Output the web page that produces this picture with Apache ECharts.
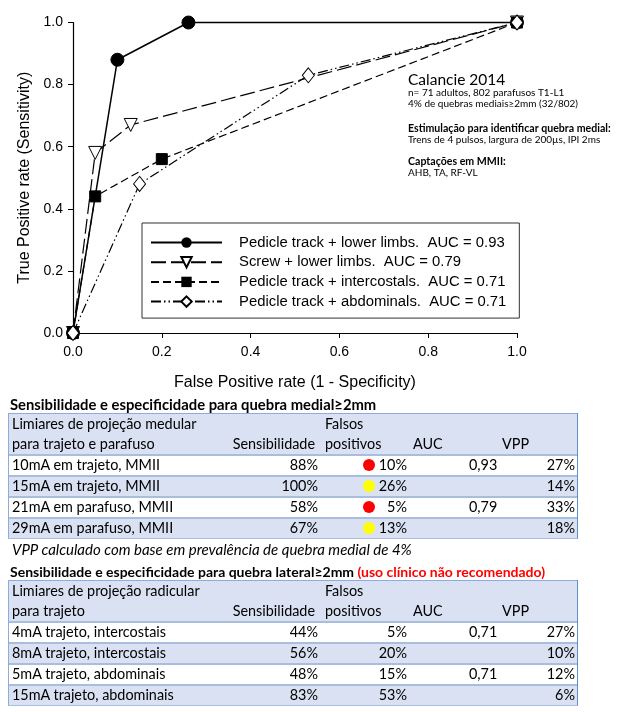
<!doctype html>
<html>
<head>
<meta charset="utf-8">
<title>Calancie 2014 - ROC</title>
<script src="https://cdn.jsdelivr.net/npm/echarts@6/dist/echarts.min.js"></script>
<style>
  html, body { margin: 0; padding: 0; background: #fff; }
  #page { position: relative; width: 640px; height: 712px; overflow: hidden; }
  #main { position: absolute; left: 0; top: 0; width: 640px; height: 400px; }
  .t { position: absolute; font-family: Lato, "Open Sans", sans-serif; font-size: 14.4px; color: #000; white-space: nowrap; }
  .b { font-weight: bold; }
  .r { text-align: right; }
  .band { position: absolute; left: 8px; width: 570px; }
  .dot { position: absolute; width: 12px; height: 12px; border-radius: 50%; }
</style>
</head>
<body>
<div id="page">
  <div id="main"></div>
</div>
<script>
// ROC points (false positive rate, true positive rate)
var fprTrackLimbs = [0, 0.10, 0.26, 1];
var tprTrackLimbs = [0, 0.88, 1.00, 1];
var fprScrewLimbs = [0, 0.05, 0.13, 1];
var tprScrewLimbs = [0, 0.58, 0.67, 1];
var fprTrackInter = [0, 0.05, 0.20, 1];
var tprTrackInter = [0, 0.44, 0.56, 1];
var fprTrackAbdo = [0, 0.15, 0.53, 1];
var tprTrackAbdo = [0, 0.48, 0.83, 1];

var seriesNames = [
  'Pedicle track + lower limbs.  AUC = 0.93',
  'Screw + lower limbs.  AUC = 0.79',
  'Pedicle track + intercostals.  AUC = 0.71',
  'Pedicle track + abdominals.  AUC = 0.71'
];

var noteLines = [
  'n= 71 adultos, 802 parafusos T1-L1',
  '4% de quebras mediais\u22652mm (32/802)',
  'Estimula\u00e7\u00e3o para identificar quebra medial:',
  'Trens de 4 pulsos, largura de 200\u00b5s, IPI 2ms',
  'Capta\u00e7\u00f5es em MMII:',
  'AHB, TA, RF-VL'
];

// table 1: medial breach
var medialLabels = ['10mA em trajeto, MMII', '15mA em trajeto, MMII', '21mA em parafuso, MMII', '29mA em parafuso, MMII'];
var medialSens = ['88%', '100%', '58%', '67%'];
var medialFp = ['10%', '26%', '5%', '13%'];
var medialFlag = ['#ff0000', '#ffff00', '#ff0000', '#ffff00'];
var medialAuc = ['0,93', '', '0,79', ''];
var medialVpp = ['27%', '14%', '33%', '18%'];

// table 2: lateral breach
var lateralLabels = ['4mA trajeto, intercostais', '8mA trajeto, intercostais', '5mA trajeto, abdominais', '15mA trajeto, abdominais'];
var lateralSens = ['44%', '56%', '48%', '83%'];
var lateralFp = ['5%', '20%', '15%', '53%'];
var lateralAuc = ['0,71', '', '0,71', ''];
var lateralVpp = ['27%', '10%', '12%', '6%'];

function pairs(xs, ys) {
  return xs.map(function (x, i) { return [x, ys[i]]; });
}

var axisFont = 'Liberation Sans';
var chart = echarts.init(document.getElementById('main'));

chart.setOption({
  animation: false,
  grid: { left: 73, right: 123, top: 22.5, bottom: 67 },
  legend: {
    orient: 'vertical',
    left: 142,
    top: 223,
    padding: [12, 13, 9, 8],
    itemGap: 4.7,
    itemWidth: 71,
    itemHeight: 13,
    borderColor: '#333',
    borderWidth: 1,
    borderRadius: 0,
    data: seriesNames,
    textStyle: { fontFamily: axisFont, fontSize: 14.85, color: '#000', padding: [0, 0, 0, 12] }
  },
  xAxis: {
    type: 'value', min: 0, max: 1, interval: 0.2,
    name: 'False Positive rate (1 - Specificity)',
    nameLocation: 'middle', nameGap: 42,
    nameTextStyle: { fontFamily: axisFont, fontSize: 16, color: '#000' },
    axisLine: { show: true, lineStyle: { color: '#000', width: 1.2 } },
    axisTick: { show: true, length: 5, lineStyle: { color: '#000' } },
    axisLabel: { margin: 12, fontFamily: axisFont, fontSize: 14, color: '#000',
      formatter: function (v) { return v.toFixed(1); } },
    splitLine: { show: false }
  },
  yAxis: {
    type: 'value', min: 0, max: 1, interval: 0.2,
    name: 'True Positive rate (Sensitivity)',
    nameLocation: 'middle', nameGap: 40,
    nameTextStyle: { fontFamily: axisFont, fontSize: 16, color: '#000' },
    axisLine: { show: true, lineStyle: { color: '#000', width: 1.2 } },
    axisTick: { show: true, length: 5, lineStyle: { color: '#000' } },
    axisLabel: { margin: 10, fontFamily: axisFont, fontSize: 14, color: '#000',
      formatter: function (v) { return v.toFixed(1); } },
    splitLine: { show: false }
  },
  graphic: [
    { type: 'text', left: 408, top: 72,
      style: { text: 'Calancie 2014', font: '15.5px Lato', fill: '#000' } },
    { type: 'text', left: 408, top: 87,
      style: { text: noteLines[0] + '\n' + noteLines[1], font: '10px Lato', fill: '#000', lineHeight: 11 } },
    { type: 'text', left: 408, top: 123,
      style: { text: noteLines[2], font: 'bold 10.6px Lato', fill: '#000' } },
    { type: 'text', left: 408, top: 134.5,
      style: { text: noteLines[3], font: '10px Lato', fill: '#000' } },
    { type: 'text', left: 408, top: 156,
      style: { text: noteLines[4], font: 'bold 10.6px Lato', fill: '#000' } },
    { type: 'text', left: 408, top: 167.5,
      style: { text: noteLines[5], font: '10px Lato', fill: '#000' } }
  ],
  series: [
    {
      name: seriesNames[0], type: 'line', clip: false,
      data: pairs(fprTrackLimbs, tprTrackLimbs),
      symbol: 'circle', symbolSize: 13,
      lineStyle: { color: '#000', width: 1.5, type: 'solid' },
      itemStyle: { color: '#000', borderColor: '#000' }
    },
    {
      name: seriesNames[1], type: 'line', clip: false,
      data: pairs(fprScrewLimbs, tprScrewLimbs),
      symbol: 'triangle', symbolRotate: 180, symbolSize: 13,
      lineStyle: { color: '#000', width: 1.2, type: [15, 5] },
      itemStyle: { color: '#fff', borderColor: '#000', borderWidth: 1 }
    },
    {
      name: seriesNames[2], type: 'line', clip: false,
      data: pairs(fprTrackInter, tprTrackInter),
      symbol: 'rect', symbolSize: 11,
      lineStyle: { color: '#000', width: 1.2, type: [8, 4] },
      itemStyle: { color: '#000', borderColor: '#000' }
    },
    {
      name: seriesNames[3], type: 'line', clip: false,
      data: pairs(fprTrackAbdo, tprTrackAbdo),
      symbol: 'diamond', symbolSize: [12, 15],
      lineStyle: { color: '#000', width: 1.2, type: [10, 3, 1.5, 3, 1.5, 3] },
      itemStyle: { color: '#fff', borderColor: '#000', borderWidth: 1 }
    }
  ]
});

// tables
var page = document.getElementById('page');
function put(html, cls, css) {
  var d = document.createElement('div');
  d.className = 't ' + (cls || '');
  d.innerHTML = html;
  for (var k in css) d.style[k] = css[k];
  page.appendChild(d);
  return d;
}
function band(top, h, bg, extra) {
  var d = document.createElement('div');
  d.className = 'band';
  d.style.top = top + 'px';
  d.style.height = h + 'px';
  d.style.background = bg;
  for (var k in extra) d.style[k] = extra[k];
  page.appendChild(d);
}

var headBg = '#d9e1f2';
var lineCol = '#a9bddf';
var rowH = 21;

function buildTable(top, head1, head2, labels, sens, fp, auc, vpp, flags) {
  var headH = 41;
  band(top, headH, headBg, { borderTop: '1px solid #8faadc', boxSizing: 'border-box' });
  put(head1, '', { left: '12px', top: (top + 1) + 'px', lineHeight: '20px' });
  put(head2, '', { left: '12px', top: (top + 21) + 'px', lineHeight: '20px' });
  put('Sensibilidade', 'r', { left: '200px', width: '115px', top: (top + 21) + 'px', lineHeight: '20px' });
  put('Falsos', '', { left: '325px', top: (top + 1) + 'px', lineHeight: '20px' });
  put('positivos', '', { left: '325px', top: (top + 21) + 'px', lineHeight: '20px' });
  put('AUC', '', { left: '413px', top: (top + 21) + 'px', lineHeight: '20px' });
  put('VPP', '', { left: '502px', top: (top + 21) + 'px', lineHeight: '20px' });
  labels.forEach(function (lab, i) {
    var y = top + headH + i * rowH;
    band(y, rowH, i % 2 ? headBg : '#fff', { borderTop: '2px solid ' + lineCol, boxSizing: 'border-box' });
    put(lab, '', { left: '12px', top: y + 'px', lineHeight: (rowH + 1) + 'px' });
    put(sens[i], 'r', { left: '240px', width: '78px', top: y + 'px', lineHeight: (rowH + 1) + 'px' });
    put(fp[i], 'r', { left: '340px', width: '67px', top: y + 'px', lineHeight: (rowH + 1) + 'px' });
    if (flags) {
      var dot = document.createElement('div');
      dot.className = 'dot';
      dot.style.left = '363px';
      dot.style.top = (y + 5) + 'px';
      dot.style.background = flags[i];
      page.appendChild(dot);
    }
    put(auc[i], '', { left: '469px', top: y + 'px', lineHeight: (rowH + 1) + 'px' });
    put(vpp[i], 'r', { left: '500px', width: '75px', top: y + 'px', lineHeight: (rowH + 1) + 'px' });
  });
  var bottom = top + headH + labels.length * rowH;
  // side and bottom rules
  var frame = document.createElement('div');
  frame.style.cssText = 'position:absolute;left:8px;width:570px;box-sizing:border-box;' +
    'border-left:1px solid #8faadc;border-right:1px solid #5b8fd0;border-bottom:1px solid ' + lineCol + ';' +
    'top:' + top + 'px;height:' + (bottom - top + 1) + 'px;';
  page.appendChild(frame);
}

put('Sensibilidade e especificidade para quebra medial\u22652mm', 'b', { left: '10px', top: '395px', lineHeight: '18px', fontSize: '14.8px' });
buildTable(413, 'Limiares de proje\u00e7\u00e3o medular', 'para trajeto e parafuso',
  medialLabels, medialSens, medialFp, medialAuc, medialVpp, medialFlag);
put('VPP calculado com base em preval\u00eancia de quebra medial de 4%', '', { left: '12px', top: '540px', lineHeight: '18px', fontStyle: 'italic', fontSize: '15px' });
put('Sensibilidade e especificidade para quebra lateral\u22652mm <span style="color:#ff0000">(uso cl\u00ednico n\u00e3o recomendado)</span>', 'b',
  { left: '10px', top: '563px', lineHeight: '18px', fontSize: '14px' });
buildTable(580, 'Limiares de proje\u00e7\u00e3o radicular', 'para trajeto',
  lateralLabels, lateralSens, lateralFp, lateralAuc, lateralVpp, null);

window.addEventListener('resize', function () { chart.resize(); });
</script>
</body>
</html>
